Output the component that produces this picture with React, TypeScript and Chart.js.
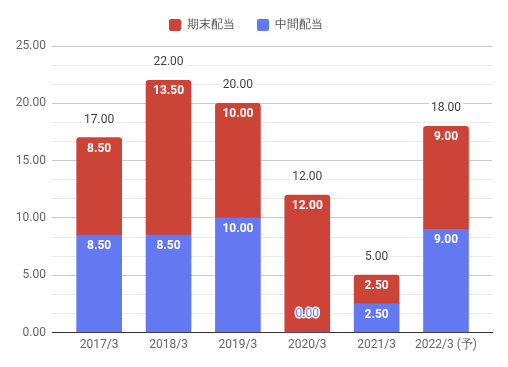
import React, { useEffect, useRef } from "react";
import { Chart, registerables } from "chart.js";

Chart.register(...registerables);

const categories = ["2017/3", "2018/3", "2019/3", "2020/3", "2021/3", "2022/3 (予)"];
const interimDividend = [8.5, 8.5, 10, 0, 2.5, 9];
const yearEndDividend = [8.5, 13.5, 10, 12, 2.5, 9];
const seriesNames = ["中間配当", "期末配当"];
const yMajorTicks = [0, 5, 10, 15, 20, 25];

const BLUE = "#6479f1";
const RED = "#cc4437";
const FONT = "Roboto, Arial, sans-serif";

const labelPlugin = {
  id: "barLabels",
  afterDatasetsDraw(chart: any) {
    const ctx = chart.ctx;
    const series = [interimDividend, yearEndDividend];
    ctx.save();
    ctx.textAlign = "center";
    ctx.textBaseline = "middle";
    series.forEach((vals, di) => {
      const meta = chart.getDatasetMeta(di);
      meta.data.forEach((el: any, i: number) => {
        const v = vals[i];
        const { x, y, base } = el.getProps(["x", "y", "base"], true);
        const text = v.toFixed(2);
        if (v === 0) {
          ctx.font = "12px " + FONT;
          ctx.lineWidth = 3;
          ctx.lineJoin = "round";
          ctx.strokeStyle = "#ffffff";
          ctx.strokeText(text, x, base - 19);
          ctx.fillStyle = di === 0 ? BLUE : RED;
          ctx.fillText(text, x, base - 19);
        } else {
          ctx.font = "bold 12px " + FONT;
          ctx.fillStyle = "#ffffff";
          ctx.fillText(text, x, y + 11);
        }
      });
    });
    const topMeta = chart.getDatasetMeta(1);
    topMeta.data.forEach((el: any, i: number) => {
      const total = interimDividend[i] + yearEndDividend[i];
      const { x, y } = el.getProps(["x", "y"], true);
      const text = total.toFixed(2);
      ctx.font = "12px " + FONT;
      const w = ctx.measureText(text).width;
      const cy = y - 18;
      ctx.fillStyle = "#ffffff";
      ctx.fillRect(x - w / 2 - 2, cy - 7, w + 4, 14);
      ctx.fillStyle = "#444444";
      ctx.fillText(text, x, cy);
    });
    ctx.restore();
  },
};

export default function App() {
  const canvasRef = useRef<HTMLCanvasElement>(null);

  useEffect(() => {
    const canvas = canvasRef.current;
    if (!canvas) return;
    const chart = new Chart(canvas, {
      type: "bar",
      data: {
        datasets: [
          {
            label: seriesNames[0],
            data: interimDividend.map((v, i) => ({ x: i, y: v })),
            backgroundColor: BLUE,
            borderRadius: 0,
            barThickness: 45,
            xAxisID: "x",
            yAxisID: "y",
          },
          {
            label: seriesNames[1],
            data: yearEndDividend.map((v, i) => ({ x: i, y: v })),
            backgroundColor: RED,
            borderRadius: { topLeft: 3, topRight: 3, bottomLeft: 0, bottomRight: 0 },
            barThickness: 45,
            xAxisID: "x",
            yAxisID: "y",
          },
        ],
      },
      options: {
        animation: false,
        responsive: true,
        maintainAspectRatio: false,
        layout: { padding: { top: -3, right: 16, bottom: 0, left: 0 } },
        plugins: {
          tooltip: { enabled: false },
          legend: {
            position: "top",
            reverse: true,
            labels: {
              boxWidth: 12,
              boxHeight: 12,
              padding: 22,
              color: "#555555",
              font: { family: FONT, size: 12 },
              useBorderRadius: true,
              borderRadius: 2,
            },
          },
        },
        scales: {
          x: {
            type: "linear",
            stacked: true,
            min: -0.68,
            max: 5.663,
            offset: false,
            z: 1,
            afterBuildTicks: (scale: any) => {
              scale.ticks = categories.map((_, i) => ({ value: i }));
            },
            afterFit: (scale: any) => {
              scale.height = 34.5;
            },
            ticks: {
              autoSkip: false,
              maxRotation: 0,
              padding: 5,
              color: "#666666",
              font: { family: FONT, size: 12 },
              callback: (v: any) => categories[Math.round(Number(v))] ?? "",
            },
            grid: { display: false, drawTicks: false },
            border: { display: true, color: "#333333", width: 1 },
          },
          y: {
            stacked: true,
            min: 0,
            max: 25,
            afterBuildTicks: (scale: any) => {
              const t: any[] = [];
              for (let k = 0; k <= 15; k++) t.push({ value: (25 * k) / 15 });
              scale.ticks = t;
            },
            afterFit: (scale: any) => {
              scale.width = 52;
            },
            ticks: {
              padding: 6,
              color: "#666666",
              font: { family: FONT, size: 12 },
              callback: (v: any) => {
                const n = Number(v);
                const m = yMajorTicks.find((t) => Math.abs(t - n) < 1e-6);
                return m === undefined ? "" : m.toFixed(2);
              },
            },
            grid: {
              drawTicks: false,
              color: (c: any) => {
                const n = c.tick ? c.tick.value : 0;
                if (Math.abs(n) < 1e-6) return "#333333";
                return yMajorTicks.some((t) => Math.abs(t - n) < 1e-6) ? "#cccccc" : "#ebebeb";
              },
            },
            border: { display: false },
          },
          spacer: {
            type: "linear",
            axis: "x",
            position: "top",
            display: true,
            ticks: { display: false },
            grid: { display: false, drawTicks: false },
            border: { display: false },
            afterFit: (scale: any) => {
              scale.height = 5;
            },
          },
        },
      },
      plugins: [labelPlugin],
    });
    return () => chart.destroy();
  }, []);

  return (
    <div style={{ position: "fixed", left: 0, top: 0, width: 508, height: 367, background: "#fff" }}>
      <canvas ref={canvasRef} />
    </div>
  );
}
